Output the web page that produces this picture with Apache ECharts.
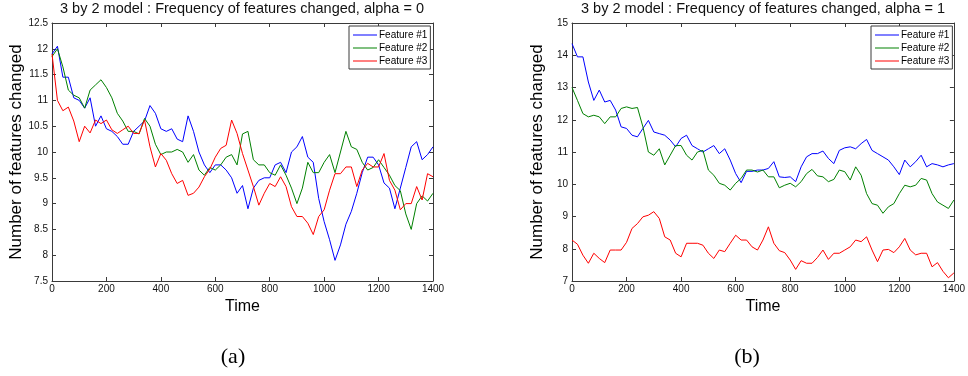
<!DOCTYPE html>
<html><head><meta charset="utf-8">
<script src="https://cdn.jsdelivr.net/npm/echarts@6/dist/echarts.min.js"></script>
<style>html,body{margin:0;padding:0;background:#fff}#c{width:968px;height:376px}</style>
</head><body><div id="c"></div>
<script>
// ---- data ----
const time = [0,20,40,60,80,100,120,140,160,180,200,220,240,260,280,300,320,340,360,380,400,420,440,460,480,500,520,540,560,580,600,620,640,660,680,700,720,740,760,780,800,820,840,860,880,900,920,940,960,980,1000,1020,1040,1060,1080,1100,1120,1140,1160,1180,1200,1220,1240,1260,1280,1300,1320,1340,1360,1380,1400];
const featureNames = ['Feature #1','Feature #2','Feature #3'];
const xTicks = [0,200,400,600,800,1000,1200,1400];
const yTicksA = [7.5,8,8.5,9,9.5,10,10.5,11,11.5,12,12.5];
const yTicksB = [7,8,9,10,11,12,13,14,15];
const titleA = '3 by 2 model : Frequency of features changed, alpha = 0';
const titleB = '3 by 2 model : Frequency of features changed, alpha = 1';
const xName = 'Time';
const yName = 'Number of features changed';
const captions = ['(a)','(b)'];

// panel (a): alpha = 0
const aF1 = [11.9,12.05,11.45,11.45,11.05,11.0,10.85,11.05,10.5,10.7,10.45,10.4,10.3,10.15,10.15,10.4,10.5,10.6,10.9,10.75,10.45,10.4,10.45,10.25,10.2,10.7,10.4,10.0,9.75,9.6,9.75,9.75,9.65,9.5,9.2,9.35,8.9,9.3,9.45,9.5,9.5,9.75,9.8,9.6,10.0,10.1,10.3,9.9,9.8,9.1,8.65,8.3,7.9,8.2,8.6,8.85,9.2,9.6,9.9,9.9,9.75,9.4,9.3,8.9,9.3,9.7,10.1,10.2,9.85,9.95,10.1];
const aF2 = [11.85,12.0,11.65,11.2,11.1,11.05,10.85,11.2,11.3,11.4,11.25,11.05,10.75,10.6,10.4,10.4,10.35,10.65,10.5,10.15,9.95,10.0,10.0,10.05,10.0,9.8,9.95,9.65,9.55,9.7,9.65,9.75,9.9,9.95,9.75,10.35,10.4,9.85,9.75,9.75,9.6,9.55,9.75,9.55,9.3,9.0,9.3,9.8,9.6,9.6,9.8,9.95,9.6,10.0,10.4,10.1,10.05,9.8,9.65,9.7,9.85,9.7,9.55,9.35,9.25,8.8,8.5,9.0,9.15,9.05,9.2];
const aF3 = [11.9,11.0,10.8,10.87,10.6,10.2,10.5,10.37,10.62,10.55,10.62,10.43,10.36,10.43,10.5,10.36,10.36,10.62,10.1,9.71,9.97,9.84,9.58,9.39,9.45,9.16,9.2,9.32,9.52,9.67,9.9,10.07,10.13,10.62,10.36,9.97,9.65,9.33,8.97,9.2,9.39,9.33,9.52,9.33,8.94,8.75,8.75,8.62,8.4,8.75,8.88,9.26,9.58,9.58,9.71,9.71,9.33,9.65,9.78,9.71,9.71,9.97,9.45,9.26,8.88,9.0,9.0,9.33,9.07,9.58,9.52];

// panel (b): alpha = 1
const bF1 = [14.36,13.95,13.95,13.17,12.6,12.92,12.55,12.6,12.3,11.78,11.73,11.52,11.47,11.73,11.98,11.62,11.57,11.52,11.37,11.16,11.42,11.52,11.2,11.1,11.0,11.1,11.2,10.95,11.1,10.75,10.33,10.05,10.4,10.4,10.44,10.44,10.49,10.7,10.23,10.21,10.23,10.08,10.54,10.85,10.95,10.95,11.03,10.8,10.64,11.05,11.13,11.16,11.1,11.26,11.39,11.05,10.95,10.85,10.75,10.54,10.3,10.75,10.54,10.7,10.9,10.54,10.64,10.6,10.54,10.6,10.64];
const bF2 = [13.0,12.6,12.19,12.09,12.14,12.09,11.88,12.09,12.09,12.35,12.4,12.35,12.38,11.78,11.0,10.9,11.1,10.6,10.9,11.2,11.2,10.9,10.75,11.0,11.05,10.44,10.28,10.03,9.97,9.82,10.03,10.18,10.44,10.44,10.38,10.44,10.23,10.23,9.89,9.97,10.03,9.92,10.08,10.33,10.46,10.26,10.23,10.08,10.15,10.44,10.39,10.13,10.54,10.28,9.71,9.4,9.35,9.1,9.3,9.4,9.71,9.97,9.92,9.97,10.18,10.13,9.71,9.45,9.35,9.25,9.51];
const bF3 = [8.27,8.14,7.8,7.55,7.86,7.7,7.57,7.96,7.96,7.96,8.2,8.63,8.78,8.99,9.04,9.15,8.94,8.37,8.27,7.86,7.75,8.17,8.17,8.17,8.11,7.86,7.7,7.96,7.91,8.17,8.42,8.27,8.27,8.06,7.96,8.27,8.68,8.17,7.94,7.88,7.65,7.36,7.63,7.55,7.55,7.73,7.96,7.67,7.86,7.86,7.96,8.06,8.27,8.22,8.37,7.96,7.6,7.96,7.98,7.88,8.06,8.32,7.96,7.81,7.86,7.86,7.44,7.57,7.3,7.1,7.25];

// ---- styles ----
const lineColors = ['#0000ff','#008000','#ff0000'];
const frame = '#3a3a3a';
const font = 'Liberation Sans, Arial, Helvetica, sans-serif';

function pairs(vals){ return time.map((t,i)=>[t, vals[i]]); }

function xAx(grid, pos, show){
  return {
    type:'value', gridIndex:grid, position:pos,
    min:xTicks[0], max:xTicks[xTicks.length-1], interval:xTicks[1]-xTicks[0],
    axisLine:{show:true,onZero:false,lineStyle:{color:frame,width:1}},
    axisTick:{show:true,inside:true,length:4,lineStyle:{color:frame}},
    axisLabel:{show:show,fontSize:10,margin:3,color:'#111',fontFamily:font,formatter:v=>String(v)},
    splitLine:{show:false},
    name: show ? xName : '', nameLocation:'middle', nameGap:13,
    nameTextStyle:{fontSize:16,color:'#000',fontFamily:font}
  };
}
function yAx(grid, pos, show, ticks){
  return {
    type:'value', gridIndex:grid, position:pos,
    min:ticks[0], max:ticks[ticks.length-1], interval:ticks[1]-ticks[0],
    axisLine:{show:true,onZero:false,lineStyle:{color:frame,width:1}},
    axisTick:{show:true,inside:true,length:4,lineStyle:{color:frame}},
    axisLabel:{show:show,fontSize:10,margin:4,color:'#111',fontFamily:font,formatter:v=>String(v)},
    splitLine:{show:false},
    name: show ? yName : '', nameLocation:'middle', nameGap:26,
    nameTextStyle:{fontSize:17,color:'#000',fontFamily:font}
  };
}
function legend(left){
  return {
    left:left, top:26, orient:'vertical',
    data:featureNames.map(n=>({name:n, icon:'rect'})),
    backgroundColor:'#fff', borderColor:frame, borderWidth:1,
    padding:[4,3,3,4], itemWidth:24, itemHeight:1, itemGap:3,
    textStyle:{fontSize:10,lineHeight:10,color:'#000',fontFamily:font,padding:[0,0,0,-3]},
    selectedMode:false
  };
}
function ser(name, vals, xi, yi, c){
  return {
    name:name, type:'line', xAxisIndex:xi, yAxisIndex:yi,
    data:pairs(vals), symbol:'none', showSymbol:false,
    lineStyle:{color:c,width:1}, itemStyle:{color:c},
    animation:false, silent:true
  };
}

const chart = echarts.init(document.getElementById('c'), null, {renderer:'canvas'});
chart.setOption({
  animation:false,
  backgroundColor:'#fff',
  textStyle:{fontFamily:font},
  title:[
    {text:titleA, left:242, top:1, textAlign:'center', padding:0, textStyle:{fontSize:14.5,fontWeight:'normal',color:'#111',fontFamily:font}},
    {text:titleB, left:763, top:1, textAlign:'center', padding:0, textStyle:{fontSize:14.5,fontWeight:'normal',color:'#111',fontFamily:font}},
    {text:captions[0], left:233, top:346, textAlign:'center', padding:0, textStyle:{fontSize:22,fontWeight:'normal',color:'#000',fontFamily:'Liberation Serif, DejaVu Serif, serif'}},
    {text:captions[1], left:747, top:346, textAlign:'center', padding:0, textStyle:{fontSize:22,fontWeight:'normal',color:'#000',fontFamily:'Liberation Serif, DejaVu Serif, serif'}}
  ],
  legend:[legend(349), legend(871)],
  grid:[
    {left:52, top:23, width:381, height:258, containLabel:false},
    {left:572, top:23, width:382, height:258, containLabel:false}
  ],
  xAxis:[xAx(0,'bottom',true), xAx(0,'top',false), xAx(1,'bottom',true), xAx(1,'top',false)],
  yAxis:[yAx(0,'left',true,yTicksA), yAx(0,'right',false,yTicksA), yAx(1,'left',true,yTicksB), yAx(1,'right',false,yTicksB)],
  series:[
    ser(featureNames[0], aF1, 0, 0, lineColors[0]),
    ser(featureNames[1], aF2, 0, 0, lineColors[1]),
    ser(featureNames[2], aF3, 0, 0, lineColors[2]),
    ser(featureNames[0], bF1, 2, 2, lineColors[0]),
    ser(featureNames[1], bF2, 2, 2, lineColors[1]),
    ser(featureNames[2], bF3, 2, 2, lineColors[2])
  ]
});
</script></body></html>
